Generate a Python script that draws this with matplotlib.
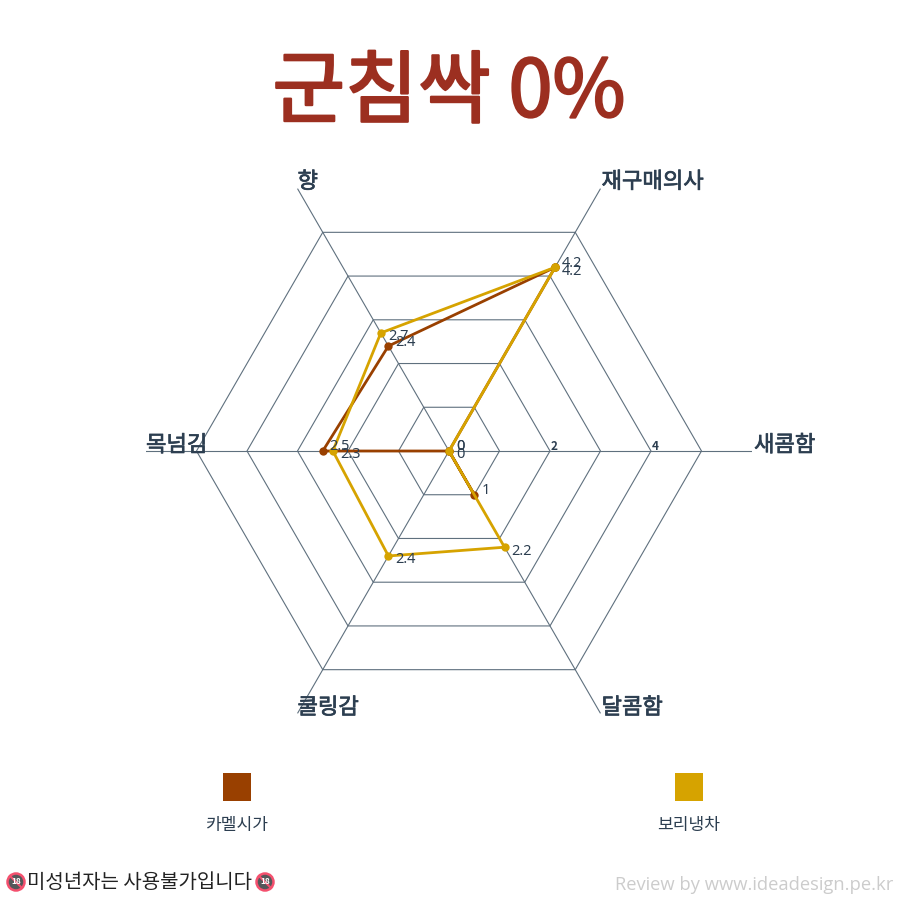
import numpy as np
import matplotlib
matplotlib.use("Agg")
import matplotlib.pyplot as plt
import matplotlib.patheffects as pe
from matplotlib.patches import Circle, Rectangle
from matplotlib.lines import Line2D

plt.rcParams['font.family'] = ['Noto Sans CJK KR', 'DejaVu Sans']

title = "군침싹 0%"
categories = ["재구매의사", "새콤함", "달콤함", "쿨링감", "목넘김", "향"]
caramel_name = "카멜시가"
caramel_values = [4.2, 0, 1, 0, 2.5, 2.4]
barley_name = "보리냉차"
barley_values = [4.2, 0, 2.2, 2.4, 2.3, 2.7]
rings = [1, 2, 3, 4, 5]
tick_labels = [2, 4]
footer_text = "미성년자는 사용불가입니다"
credit_text = "Review by www.ideadesign.pe.kr"

TEXT = "#2c3e50"
GRID = "#5f707e"
TITLE = "#9c2f20"
CARAMEL = "#994000"
BARLEY = "#d6a300"
PX = 0.72  # pixels -> points at dpi 100


def close(values):
    return list(values) + [values[0]]


theta = np.deg2rad(60 - 60 * np.arange(len(categories)))
theta_closed = close(list(theta))

fig = plt.figure(figsize=(9, 9), dpi=100, facecolor="white")
ax = fig.add_axes([(449 - 303) / 900, (900 - 451 - 303) / 900, 606 / 900, 606 / 900], projection="polar")
ax.set_ylim(0, 6)
ax.set_axis_off()

# hexagon grid and spokes
for r in rings:
    ax.plot(theta_closed, [r] * len(theta_closed), color=GRID, lw=0.8, zorder=1)
for t in theta:
    ax.plot([t, t], [0, 6], color=GRID, lw=0.8, zorder=1)


def draw_series(values, color, dx, dy):
    ax.plot(theta_closed, close(values), color=color, lw=2, zorder=3, clip_on=False,
            marker="o", ms=6, mew=0)
    for t, v in zip(theta, values):
        ax.annotate(str(v), (t, v), xytext=(dx * PX, dy * PX), textcoords="offset points",
                    ha="left", va="center", fontsize=10.5, color=TEXT, family="Noto Sans", zorder=4)


draw_series(caramel_values, CARAMEL, 7, 4)
draw_series(barley_values, BARLEY, 7, -4)

# ring tick labels on the right spoke
for v in tick_labels:
    ax.annotate(str(v), (0, v), xytext=(4 * PX, 5 * PX), textcoords="offset points",
                ha="center", va="center", fontsize=8.5, fontweight="bold", color=TEXT, zorder=4)

# category labels, regular + thin stroke looks like the medium weight
label_offsets = [(1, 7), (2, 6), (1, 6), (0, 6), (0, 6), (0, 7)]
for t, name, (dx, dy) in zip(theta, categories, label_offsets):
    ax.annotate(name, (t, 6), xytext=(dx * PX, dy * PX), textcoords="offset points",
                ha="left", va="center", fontsize=16, color=TEXT, annotation_clip=False,
                path_effects=[pe.withStroke(linewidth=0.5, foreground=TEXT)])

fig.text(449 / 900, 1 - 94 / 900, title, ha="center", va="center", fontsize=57, color=TITLE,
         path_effects=[pe.withStroke(linewidth=1.6, foreground=TITLE)])


# legend
def legend_entry(cx, name, color):
    fig.add_artist(Rectangle(((cx - 14) / 900, 1 - 801 / 900), 28 / 900, 28 / 900,
                             transform=fig.transFigure, facecolor=color, edgecolor="none"))
    fig.text(cx / 900, 1 - 825 / 900, name, ha="center", va="center", fontsize=12.3, color=TEXT)


legend_entry(237, caramel_name, CARAMEL)
legend_entry(689, barley_name, BARLEY)


# no-minors badge, no emoji font available
def badge(cx, cy):
    r = 8.5
    fig.add_artist(Circle((cx, 900 - cy), r, transform=None, facecolor="#55575a",
                          edgecolor="#f4506e", lw=1.8))
    fig.add_artist(Line2D([cx - 6, cx + 6], [900 - cy + 6, 900 - cy - 6], transform=None,
                          color="#f4506e", lw=1.5))
    fig.text(cx / 900, 1 - cy / 900, "18", ha="center", va="center", fontsize=6,
             fontweight="bold", color="white")


badge(16, 882)
badge(265, 882)
fig.text(27 / 900, 1 - 883 / 900, footer_text, ha="left", va="center", fontsize=14.4, color="#222222")
fig.text(893 / 900, 1 - 885 / 900, credit_text, ha="right", va="center", fontsize=13.2,
         color="#cccccc", family="Open Sans")

fig.savefig("out.png", dpi=100)
